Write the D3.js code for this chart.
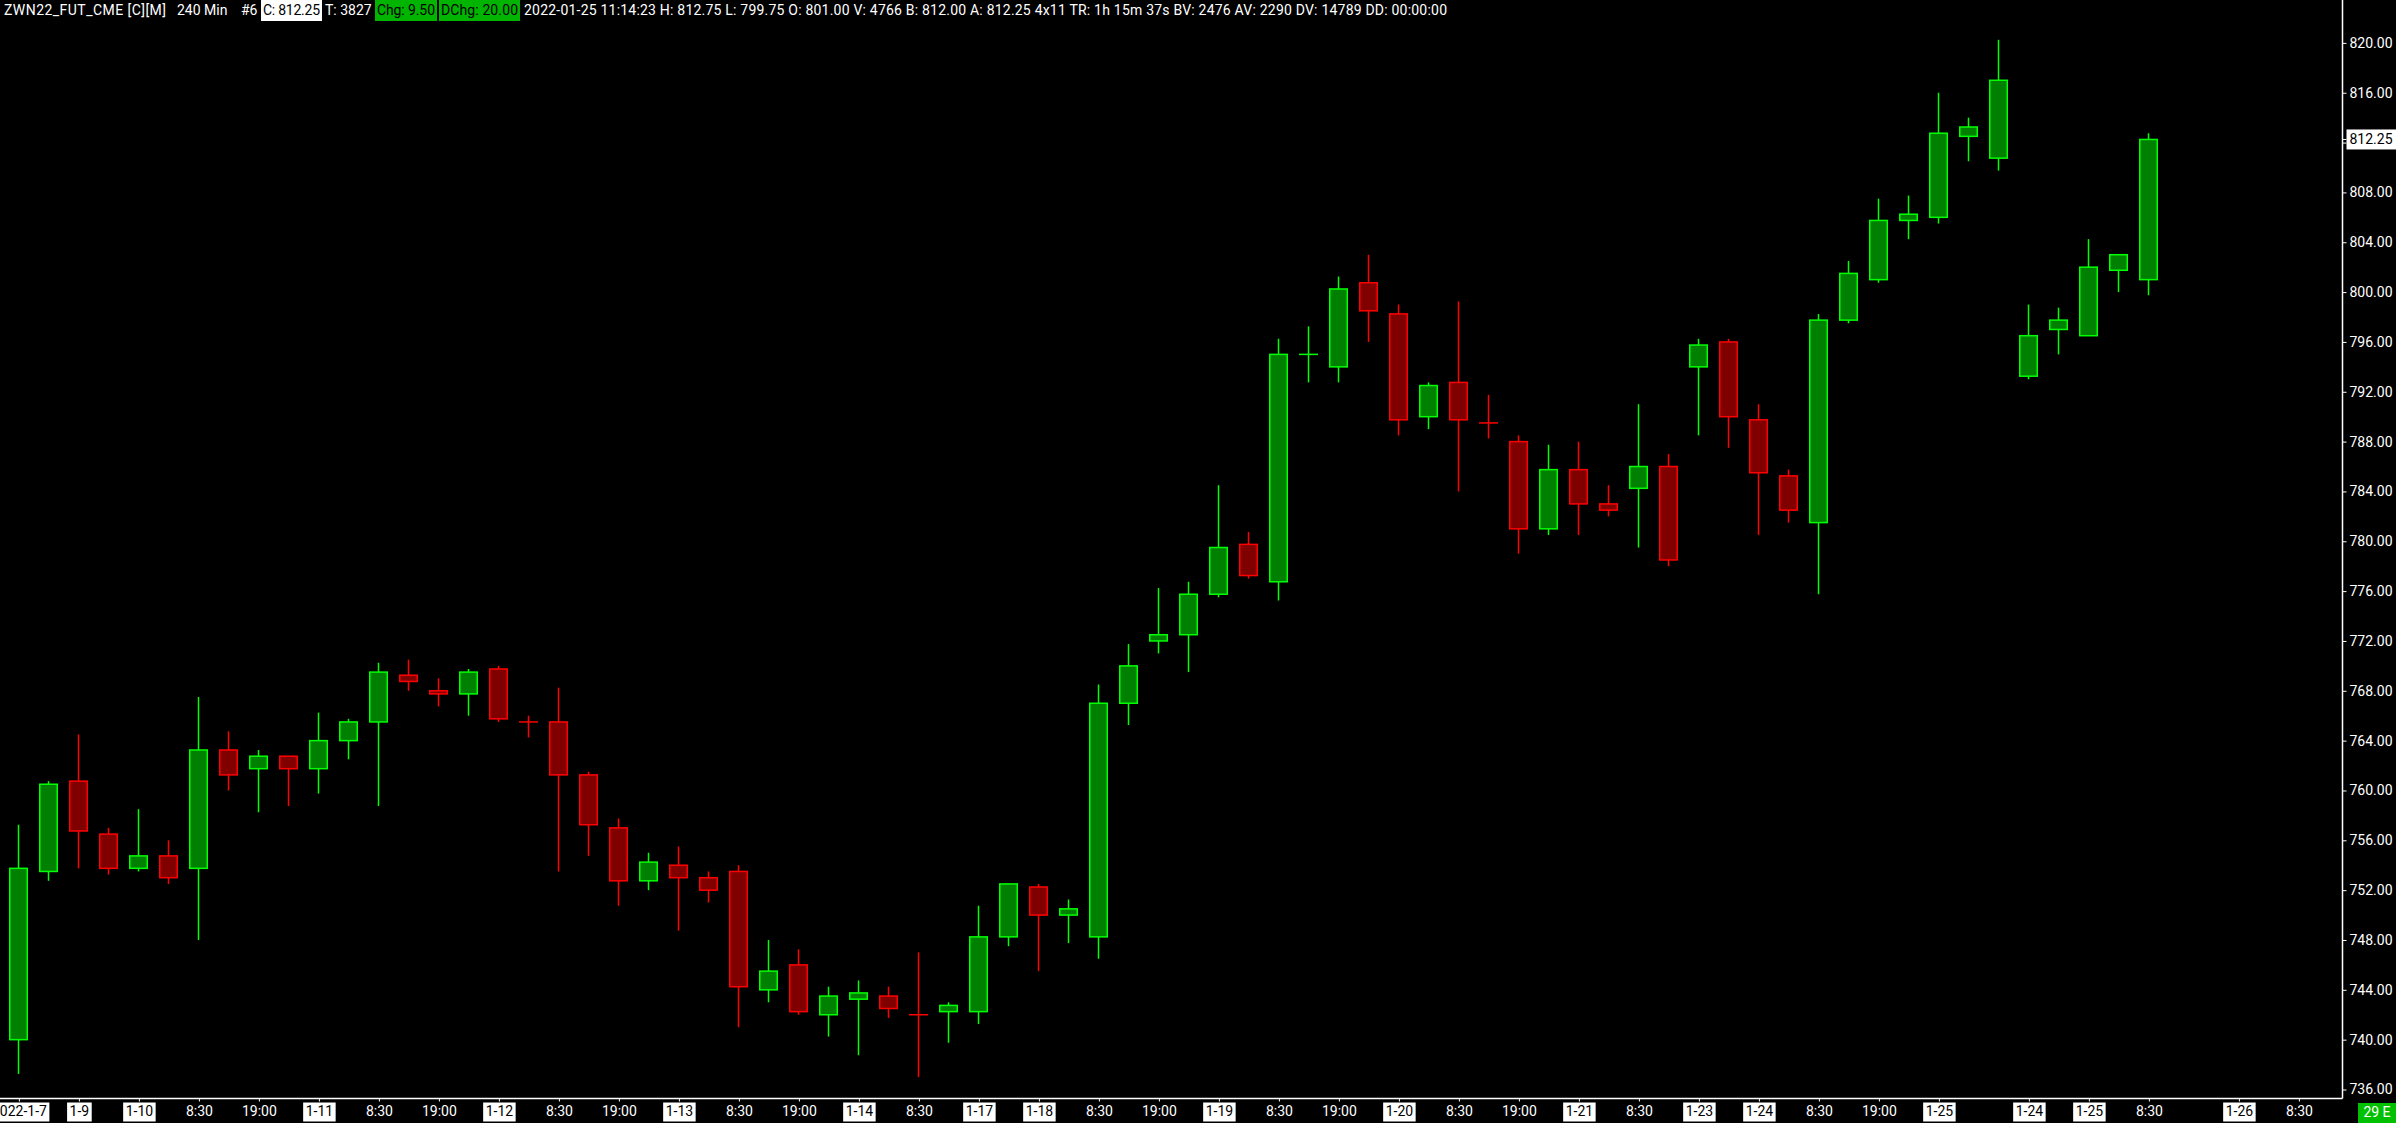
<!DOCTYPE html>
<html><head><meta charset="utf-8">
<script src="https://cdn.jsdelivr.net/npm/d3@7"></script>
<style>html,body{margin:0;padding:0;background:#000;overflow:hidden}svg{display:block}</style>
</head><body>
<svg id="c" width="2396" height="1123"></svg>
<script>
// ---- data ----
const opens  = [740.0,753.5,760.75,756.5,753.75,754.75,753.75,763.25,761.75,762.75,761.75,764.0,765.5,769.25,768.0,767.75,769.75,765.5,765.5,761.25,
                757.0,752.75,754.0,753.0,753.5,744.0,746.0,742.0,743.25,743.5,742.0,742.25,742.25,748.25,752.25,750.0,748.25,767.0,772.0,772.5,
                775.75,779.75,776.75,795.0,794.0,800.75,798.25,790.0,792.75,789.5,788.0,781.0,785.75,783.0,784.25,786.0,794.0,796.0,789.75,785.25,
                781.5,797.75,801.0,805.75,806.0,812.5,810.75,793.25,797.0,796.5,801.75,801.0];
const highs  = [757.25,760.75,764.5,757.0,758.5,756.0,767.5,764.75,763.25,762.75,766.25,765.75,770.25,770.5,769.0,769.75,770.0,766.0,768.25,761.5,
                757.75,755.0,755.5,753.5,754.0,748.0,747.25,744.25,744.75,744.25,747.0,743.0,750.75,752.5,752.5,751.25,768.5,771.75,776.25,776.75,
                784.5,780.75,796.25,797.25,801.25,803.0,799.0,792.75,799.25,791.75,788.5,787.75,788.0,784.5,791.0,787.0,796.25,796.25,791.0,785.75,
                798.25,802.5,807.5,807.75,816.0,814.0,820.25,799.0,798.75,804.25,803.0,812.75];
const lows   = [737.25,752.75,753.75,753.25,753.5,752.5,748.0,760.0,758.25,758.75,759.75,762.5,758.75,768.0,766.75,766.0,765.5,764.25,753.5,754.75,
                750.75,752.0,748.75,751.0,741.0,743.0,742.0,740.25,738.75,741.75,737.0,739.75,741.25,747.5,745.5,747.75,746.5,765.25,771.0,769.5,
                775.5,777.0,775.25,792.75,792.75,796.0,788.5,789.0,784.0,788.25,779.0,780.5,780.5,782.0,779.5,778.0,788.5,787.5,780.5,781.5,
                775.75,797.5,800.75,804.25,805.5,810.5,809.75,793.0,795.0,796.5,800.0,799.75];
const closes = [753.75,760.5,756.75,753.75,754.75,753.0,763.25,761.25,762.75,761.75,764.0,765.5,769.5,768.75,767.75,769.5,765.75,765.5,761.25,757.25,
                752.75,754.25,753.0,752.0,744.25,745.5,742.25,743.5,743.75,742.5,742.0,742.75,748.25,752.5,750.0,750.5,767.0,770.0,772.5,775.75,
                779.5,777.25,795.0,795.0,800.25,798.5,789.75,792.5,789.75,789.5,781.0,785.75,783.0,782.5,786.0,778.5,795.75,790.0,785.5,782.5,
                797.75,801.5,805.75,806.25,812.75,813.25,817.0,796.5,797.75,802.0,803.0,812.25];

const yTicks = [736,740,744,748,752,756,760,764,768,772,776,780,784,788,792,796,800,804,808,812,816,820];
const lastPrice = 812.25;

const xLabelIdx  = [0,2,4,6,8,10,12,14,16,18,20,22,24,26,28,30,32,34,36,38,40,42,44,46,48,50,52,54,56,58,60,62,64,67,69,71,74,76];
const xLabelText = ["2022-1-7","1-9","1-10","8:30","19:00","1-11","8:30","19:00","1-12","8:30","19:00","1-13","8:30","19:00","1-14","8:30",
                    "1-17","1-18","8:30","19:00","1-19","8:30","19:00","1-20","8:30","19:00","1-21","8:30","1-23","1-24","8:30","19:00","1-25",
                    "1-24","1-25","8:30","1-26","8:30"];

const headerParts = [
  {t:"ZWN22_FUT_CME [C][M]", kind:"plain"},
  {t:"240 Min", kind:"plain"},
  {t:"#6", kind:"plain"},
  {t:"C: 812.25", kind:"white"},
  {t:"T: 3827", kind:"plain"},
  {t:"Chg: 9.50", kind:"green"},
  {t:"DChg: 20.00", kind:"green"},
  {t:"2022-01-25 11:14:23 H: 812.75 L: 799.75 O: 801.00 V: 4766 B: 812.00 A: 812.25 4x11 TR: 1h 15m 37s BV: 2476 AV: 2290 DV: 14789 DD: 00:00:00", kind:"plain"}
];
const headerX = [4,177,241,261,325,375,439,524];
const headerW = [162,null,null,61,null,62,81,923];
const cornerLabel = "29 E";

// ---- drawing ----
const W = 2396, H = 1123;
const plotRight = 2342, axisY = 1098;
const FONT = "Roboto, 'Noto Sans', sans-serif";
const svg = d3.select('#c');
svg.append('rect').attr('width', W).attr('height', H).attr('fill', '#000');

const x = d3.scaleLinear().domain([0, 76]).range([18.4, 2298.4]);
const y = d3.scaleLinear().domain([736, 820]).range([1089.5, 42.9]);

const UP_FILL = '#008000', UP_LINE = '#00ff00', DN_FILL = '#800000', DN_LINE = '#ff0000';
const idx = d3.range(opens.length);
function isUp(i) {
  if (closes[i] !== opens[i]) return closes[i] > opens[i];
  return i === 0 ? true : closes[i] >= closes[i - 1];
}
const cx = i => Math.round(x(i)) + 0.5;

svg.append('clipPath').attr('id', 'clipPlot').append('rect')
  .attr('x', 0).attr('y', 0).attr('width', plotRight).attr('height', axisY);
const plot = svg.append('g').attr('clip-path', 'url(#clipPlot)');

// wicks
plot.selectAll('line.wick').data(idx).join('line').attr('class', 'wick')
  .attr('x1', cx).attr('x2', cx)
  .attr('y1', i => y(highs[i])).attr('y2', i => y(lows[i]))
  .attr('stroke', i => isUp(i) ? UP_LINE : DN_LINE).attr('stroke-width', 1.5);

// bodies
const bodyW = 17.5;
plot.selectAll('rect.body').data(idx.filter(i => opens[i] !== closes[i])).join('rect').attr('class', 'body')
  .attr('x', i => cx(i) - bodyW / 2)
  .attr('width', bodyW)
  .attr('y', i => y(Math.max(opens[i], closes[i])))
  .attr('height', i => Math.abs(y(opens[i]) - y(closes[i])))
  .attr('fill', i => isUp(i) ? UP_FILL : DN_FILL)
  .attr('stroke', i => isUp(i) ? UP_LINE : DN_LINE)
  .attr('stroke-width', 1.5);

// doji crosses
plot.selectAll('line.doji').data(idx.filter(i => opens[i] === closes[i])).join('line').attr('class', 'doji')
  .attr('x1', i => cx(i) - 9.5).attr('x2', i => cx(i) + 9.5)
  .attr('y1', i => y(opens[i])).attr('y2', i => y(opens[i]))
  .attr('stroke', i => isUp(i) ? UP_LINE : DN_LINE).attr('stroke-width', 1.5);

// axis lines
svg.append('line').attr('x1', plotRight + 0.5).attr('x2', plotRight + 0.5).attr('y1', 0).attr('y2', axisY + 0.5)
  .attr('stroke', '#fff').attr('stroke-width', 1.5);
svg.append('line').attr('x1', 0).attr('x2', plotRight + 0.5).attr('y1', axisY + 0.5).attr('y2', axisY + 0.5)
  .attr('stroke', '#fff').attr('stroke-width', 1.5);

// y axis
const yAxis = d3.axisRight(y).tickValues(yTicks).tickFormat(d3.format('.2f')).tickSize(4).tickPadding(3);
const gy = svg.append('g').attr('transform', `translate(${plotRight + 0.5},0)`).call(yAxis);
gy.select('.domain').remove();
gy.selectAll('.tick line').attr('stroke', '#fff').attr('stroke-width', 1);
gy.selectAll('.tick text').attr('fill', '#fff').style('font-family', FONT).style('font-size', '14px');

// current price marker
const lp = svg.append('g').attr('transform', `translate(${plotRight + 0.5},${y(lastPrice)})`);
lp.append('line').attr('x1', 0).attr('x2', 4).attr('stroke', '#fff');
lp.append('rect').attr('x', 4).attr('y', -10).attr('width', W - plotRight - 4).attr('height', 20).attr('fill', '#fff');
lp.append('text').attr('x', 7).attr('dy', '0.32em').text(d3.format('.2f')(lastPrice))
  .attr('fill', '#000').style('font-family', FONT).style('font-size', '14px');

// x axis
const xAxis = d3.axisBottom(x).tickValues(xLabelIdx)
  .tickFormat((d, k) => xLabelText[k]).tickSize(3).tickPadding(3);
const gx = svg.append('g').attr('transform', `translate(0.5,${axisY + 0.5})`).call(xAxis);
gx.select('.domain').remove();
gx.selectAll('.tick line').attr('stroke', '#fff');
gx.selectAll('.tick text').attr('y', 13).attr('dy', '0.32em')
  .style('font-family', FONT).style('font-size', '14px')
  .attr('fill', (d, k) => xLabelText[k].includes(':') ? '#fff' : '#000');
gx.selectAll('.tick').each(function (d, k) {
  if (xLabelText[k].includes(':')) return;
  const t = d3.select(this).select('text');
  const w = t.node().getComputedTextLength();
  d3.select(this).insert('rect', 'text').attr('x', -w / 2 - 2.5).attr('y', 4).attr('width', w + 5).attr('height', 19).attr('fill', '#fff');
});

// corner label
svg.append('rect').attr('x', 2358).attr('y', 1103).attr('width', W - 2358).attr('height', 20).attr('fill', '#00c000');
svg.append('text').attr('x', 2377).attr('y', 1113).attr('dy', '0.32em').attr('text-anchor', 'middle')
  .text(cornerLabel).attr('fill', '#fff').style('font-family', FONT).style('font-size', '14px');

// header
const hg = svg.append('g');
headerParts.forEach((p, k) => {
  const pad = p.kind === 'plain' ? 0 : 2;
  const t = hg.append('text').attr('x', headerX[k] + pad).attr('y', 15).text(p.t)
    .style('font-family', FONT).style('font-size', '14px')
    .attr('fill', p.kind === 'plain' ? '#fff' : '#000');
  if (headerW[k]) t.attr('textLength', headerW[k] - 2 * pad).attr('lengthAdjust', 'spacing');
  if (p.kind !== 'plain') {
    hg.insert('rect', () => t.node()).attr('x', headerX[k]).attr('y', 0).attr('width', headerW[k]).attr('height', 21)
      .attr('fill', p.kind === 'white' ? '#fff' : '#00b400');
  }
});
</script>
</body></html>
